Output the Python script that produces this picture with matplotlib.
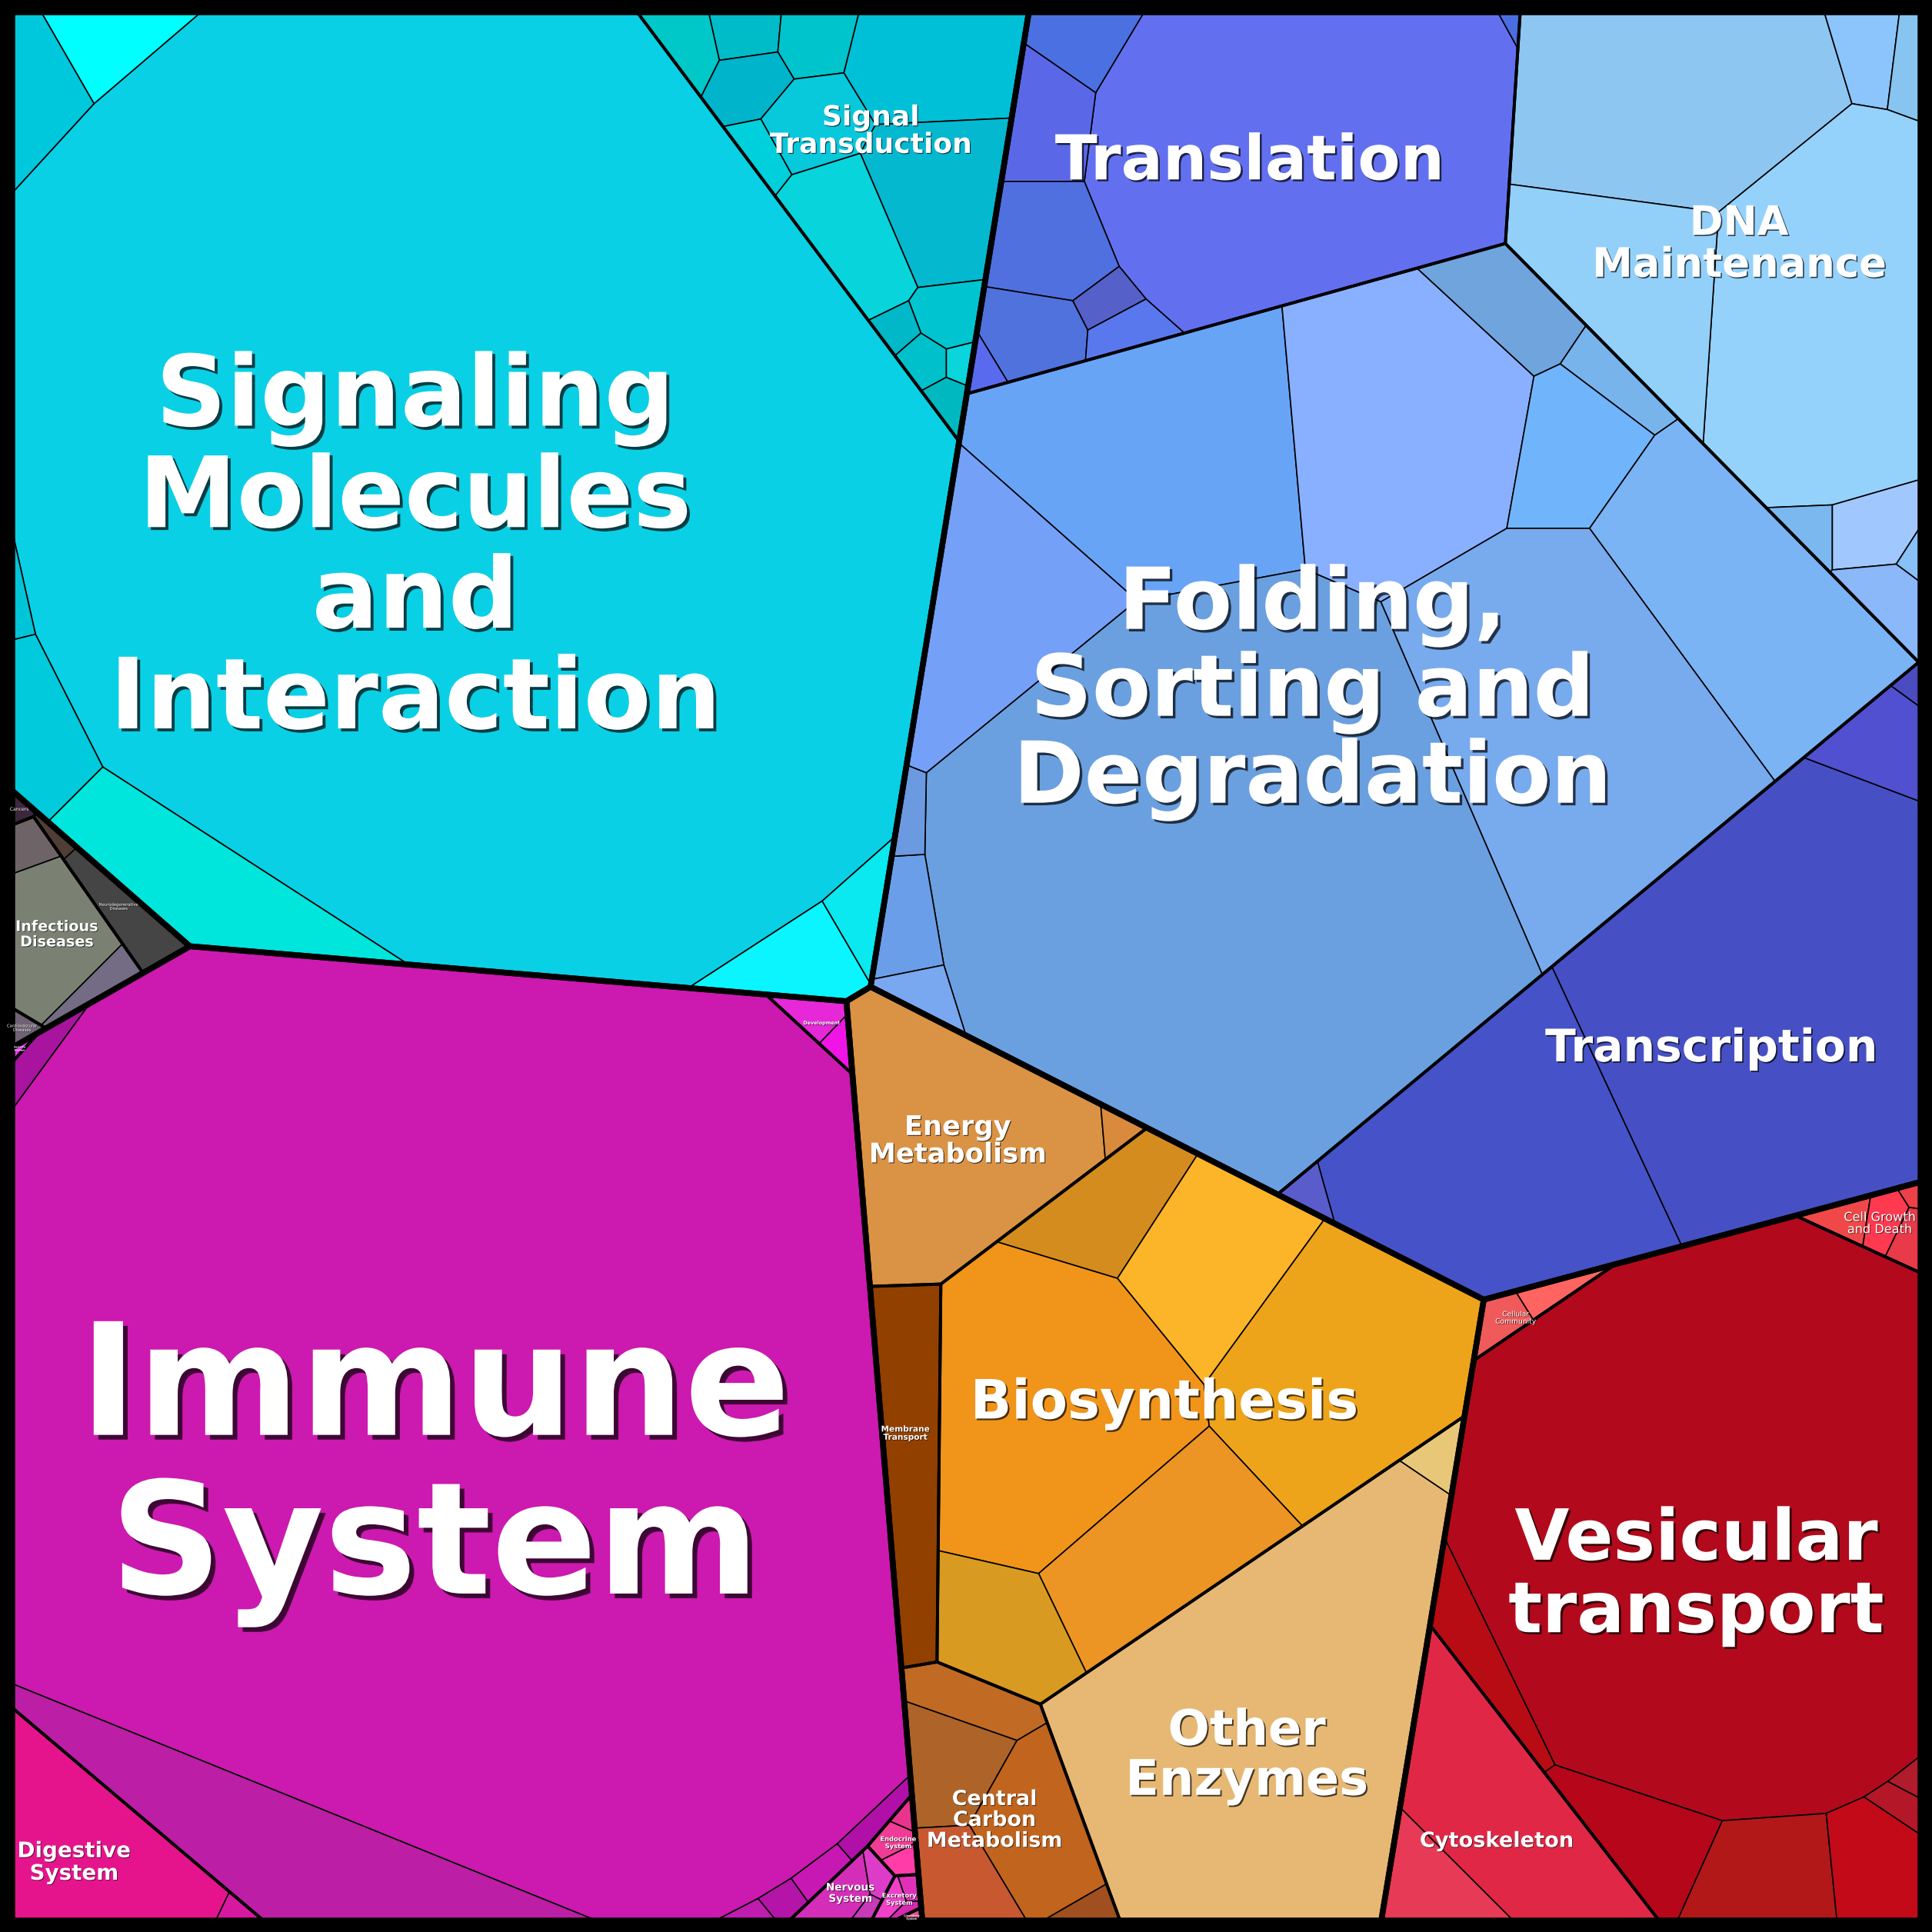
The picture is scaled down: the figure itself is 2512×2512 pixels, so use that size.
import numpy as np
import matplotlib
matplotlib.use("Agg")
import matplotlib.pyplot as plt
from matplotlib.patches import Polygon
import matplotlib.patheffects as pe

# ---------------- data: protein abundance, grouped pathway -> category -> group
groups = ["Environmental Information Processing", "Genetic Information Processing",
          "Organismal Systems", "Human Diseases", "Metabolism", "Cellular Processes"]

env_categories = ["Signaling Molecules and Interaction", "Signal Transduction"]
gen_categories = ["Translation", "DNA Maintenance", "Folding, Sorting and Degradation", "Transcription"]
org_categories = ["Immune System", "Digestive System", "Development", "Nervous System",
                  "Endocrine System", "Excretory System", "Circulatory System", "Sensory System"]
dis_categories = ["Infectious Diseases", "Neurodegenerative Diseases", "Cancers", "Cardiovascular Diseases"]
met_categories = ["Energy Metabolism", "Membrane Transport", "Biosynthesis", "Other Enzymes",
                  "Central Carbon Metabolism"]
cel_categories = ["Vesicular transport", "Cytoskeleton", "Cell Growth and Death", "Cellular Community"]

# pathway abundances inside each category
signaling_molecules = [478, 5, 6, 7, 17, 6, 3, 1]
signal_transduction = [12, 12, 8, 2, 2.5, 3, 3, 5, 1.5, 2.5, 1, 1.2, 1, 0.6]
translation = [74, 4, 6, 8, 5, 1.5, 2, 0.8, 0.3]
dna_maintenance = [37, 3.5, 2, 48, 20, 1.5, 4, 3, 0.5]
folding = [44, 40, 7, 3, 10, 35, 62, 23, 168, 4, 2, 1.5]
transcription = [44, 82, 5, 0.5, 1]
immune = [478, 28, 1.5, 1.2, 1.0, 0.8, 0.5]
digestive = [17.5, 0.5]
development = [1.3, 0.6]
nervous = [1.8, 0.6, 0.3]
endocrine = [0.7, 0.5, 0.3]
excretory = [0.5, 0.3, 0.2]
circulatory = [0.15]
sensory = [0.15]
infectious = [8, 1.2, 1.5]
neurodegenerative = [3.3, 0.4]
cancers = [0.35]
cardiovascular = [0.5]
energy = [32, 0.8]
membrane = [13.2]
biosynthesis = [41.5, 9, 15.7, 33.9, 19.3, 10]
other_enzymes = [79, 1.5]
central_carbon = [4, 6, 10, 5, 1]
vesicular = [152, 5, 8, 9, 6.5, 1, 0.5]
cytoskeleton = [22, 5]
cell_growth = [1.2, 1.3, 1.0, 0.3]
cellular_community = [1.4, 1.1]

group_members = dict(zip(groups, [env_categories, gen_categories, org_categories,
                                  dis_categories, met_categories, cel_categories]))
leaf_values = {
    "Signaling Molecules and Interaction": signaling_molecules,
    "Signal Transduction": signal_transduction,
    "Translation": translation,
    "DNA Maintenance": dna_maintenance,
    "Folding, Sorting and Degradation": folding,
    "Transcription": transcription,
    "Immune System": immune,
    "Digestive System": digestive,
    "Development": development,
    "Nervous System": nervous,
    "Endocrine System": endocrine,
    "Excretory System": excretory,
    "Circulatory System": circulatory,
    "Sensory System": sensory,
    "Infectious Diseases": infectious,
    "Neurodegenerative Diseases": neurodegenerative,
    "Cancers": cancers,
    "Cardiovascular Diseases": cardiovascular,
    "Energy Metabolism": energy,
    "Membrane Transport": membrane,
    "Biosynthesis": biosynthesis,
    "Other Enzymes": other_enzymes,
    "Central Carbon Metabolism": central_carbon,
    "Vesicular transport": vesicular,
    "Cytoskeleton": cytoskeleton,
    "Cell Growth and Death": cell_growth,
    "Cellular Community": cellular_community,
}

# ---------------- layout hints (seed points of the power-diagram treemap, canvas units 0..1568)
group_seed = {
    "Environmental Information Processing": (398, 378),
    "Genetic Information Processing": (1174, 504),
    "Organismal Systems": (331, 1178),
    "Human Diseases": (81, 740),
    "Metabolism": (852, 1135),
    "Cellular Processes": (1367, 1220),
}
category_seed = {
    "Signaling Molecules and Interaction": (365, 405), "Signal Transduction": (705, 150),
    "Translation": (990, 140), "DNA Maintenance": (1490, 172),
    "Folding, Sorting and Degradation": (1105, 552), "Transcription": (1354, 852),
    "Immune System": (365, 1168), "Digestive System": (83, 1501), "Development": (676, 830),
    "Nervous System": (690, 1510), "Endocrine System": (725, 1478), "Excretory System": (728, 1530),
    "Circulatory System": (740, 1555), "Sensory System": (10, 848),
    "Infectious Diseases": (45, 755), "Neurodegenerative Diseases": (95, 720),
    "Cancers": (8, 660), "Cardiovascular Diseases": (5, 822),
    "Energy Metabolism": (765, 925), "Membrane Transport": (774, 1195), "Biosynthesis": (971, 1197),
    "Other Enzymes": (1128, 1428), "Central Carbon Metabolism": (832, 1537),
    "Vesicular transport": (1390, 1270), "Cytoskeleton": (1190, 1425),
    "Cell Growth and Death": (1518, 990), "Cellular Community": (1244, 1055),
}
leaf_seed = {
    "Signaling Molecules and Interaction": [(390, 390), (82, 30), (30, 60), (35, 570), (180, 715),
                                            (640, 775), (700, 740), (12, 475)],
    "Signal Transduction": [(755, 55), (760, 160), (690, 190), (600, 25), (555, 35), (655, 30),
                            (605, 60), (665, 110), (620, 135), (770, 245), (725, 262), (745, 285),
                            (765, 322), (780, 285)],
    "Translation": [(1030, 120), (880, 30), (835, 95), (835, 200), (823, 275), (872, 250),
                    (888, 280), (790, 295), (1222, 14)],
    "DNA Maintenance": [(1340, 90), (1505, 40), (1545, 45), (1470, 250), (1320, 240), (1478, 440),
                        (1525, 440), (1530, 495), (1556, 460)],
    "Folding, Sorting and Degradation": [(915, 370), (1140, 350), (1225, 258), (1320, 322),
                                         (1280, 375), (1430, 480), (1280, 590), (800, 500),
                                         (980, 720), (718, 765), (725, 800), (715, 715)],
    "Transcription": [(1215, 930), (1430, 830), (1515, 605), (1550, 557), (1055, 975)],
    "Immune System": [(380, 1130), (230, 1500), (25, 870), (700, 1470), (660, 1505),
                      (625, 1530), (598, 1552)],
    "Digestive System": [(70, 1490), (200, 1552)],
    "Development": [(650, 825), (676, 850)],
    "Nervous System": [(670, 1540), (700, 1535), (690, 1555)],
    "Endocrine System": [(715, 1495), (725, 1515), (728, 1465)],
    "Excretory System": [(720, 1540), (735, 1535), (735, 1555)],
    "Circulatory System": [(738, 1556)],
    "Sensory System": [(10, 848)],
    "Infectious Diseases": [(50, 760), (22, 683), (85, 795)],
    "Neurodegenerative Diseases": [(105, 740), (55, 685)],
    "Cancers": [(14, 655)],
    "Cardiovascular Diseases": [(15, 826)],
    "Energy Metabolism": [(770, 930), (912, 918)],
    "Membrane Transport": [(732, 1195)],
    "Biosynthesis": [(855, 1140), (905, 975), (990, 1030), (1100, 1110), (950, 1250), (815, 1315)],
    "Other Enzymes": [(1010, 1420), (1172, 1180)],
    "Central Carbon Metabolism": [(790, 1368), (770, 1425), (850, 1470), (775, 1515), (895, 1548)],
    "Vesicular transport": [(1390, 1240), (1205, 1330), (1310, 1480), (1410, 1525), (1510, 1515),
                            (1540, 1470), (1552, 1447)],
    "Cytoskeleton": [(1230, 1450), (1160, 1520)],
    "Cell Growth and Death": [(1485, 990), (1517, 995), (1548, 1010), (1553, 972)],
    "Cellular Community": [(1225, 1070), (1265, 1045)],
}

# ---------------- colours of the pathway cells
leaf_colors = {
    "Signaling Molecules and Interaction": ["#0ad0e6", "#00ffff", "#00c8dc", "#00cadc", "#00e6dc",
                                            "#0af5ff", "#0ae8f0", "#00c4d8"],
    "Signal Transduction": ["#00c0d8", "#04b8d0", "#08d4dc", "#00bcc8", "#00c8c8", "#00c4cc",
                            "#00b4cc", "#08c8dc", "#00d0dc", "#00c4d0", "#00b8c8", "#00c0cc",
                            "#00b8c0", "#0ad4dc"],
    "Translation": ["#6270f0", "#4a70e2", "#5a68e8", "#5070e0", "#5072dc", "#5560c8", "#5a78ee",
                    "#5a6aee", "#4a6ee0"],
    "DNA Maintenance": ["#8ec6f2", "#8cc4fc", "#88c4f0", "#94d2fc", "#92d0fa", "#7cb8f0",
                        "#a0c8ff", "#8ab8f8", "#88c0f8"],
    "Folding, Sorting and Degradation": ["#68a4f6", "#88b0ff", "#70a4dc", "#78b4ec", "#70b4fc",
                                         "#7ab4f4", "#78aaee", "#74a0f8", "#6aa0e0", "#6a9ee8",
                                         "#7aa8f0", "#6c9ae0"],
    "Transcription": ["#4652c8", "#4650c4", "#5050d0", "#4a4cc0", "#5a5ccc"],
    "Immune System": ["#cc19b0", "#bc1ea6", "#a8149e", "#b010a8", "#c818b4", "#b414a8", "#c01cb0"],
    "Digestive System": ["#e6148c", "#d818a0"],
    "Development": ["#e628d8", "#f014e6"],
    "Nervous System": ["#d42eb8", "#dc3cc8", "#c83ab8"],
    "Endocrine System": ["#f03c96", "#ff3ca8", "#e8348c"],
    "Excretory System": ["#f040c8", "#e030b8", "#d828b0"],
    "Circulatory System": ["#e84c8c"],
    "Sensory System": ["#ff30ff"],
    "Infectious Diseases": ["#7a8072", "#6e6468", "#746c84"],
    "Neurodegenerative Diseases": ["#454545", "#4e3e36"],
    "Cancers": ["#3c283c"],
    "Cardiovascular Diseases": ["#6e6274"],
    "Energy Metabolism": ["#da9244", "#d98a3c"],
    "Membrane Transport": ["#924000"],
    "Biosynthesis": ["#f0941a", "#d48c1e", "#fcb428", "#eea41a", "#ec9424", "#d89a20"],
    "Other Enzymes": ["#e6b874", "#e8c878"],
    "Central Carbon Metabolism": ["#c06a24", "#ae6428", "#c0641e", "#c85830", "#a05020"],
    "Vesicular transport": ["#b20a1c", "#b80c14", "#b5061a", "#b21818", "#c20a18", "#b41828",
                            "#b01c2c"],
    "Cytoskeleton": ["#e02846", "#e63a56"],
    "Cell Growth and Death": ["#f04848", "#ff3a50", "#e83a48", "#ee4048"],
    "Cellular Community": ["#f05a5a", "#ff6460"],
}

# ---------------- label style: text, size (pt), weight, nudge from the cell centroid
label_style = {
    "Signaling Molecules and Interaction": ("Signaling\nMolecules\nand\nInteraction", 46, "bold"),
    "Signal Transduction": ("Signal\nTransduction", 13, "bold"),
    "Translation": ("Translation", 29, "bold"),
    "DNA Maintenance": ("DNA\nMaintenance", 19, "bold"),
    "Folding, Sorting and Degradation": ("Folding,\nSorting and\nDegradation", 40, "bold"),
    "Transcription": ("Transcription", 21, "bold"),
    "Immune System": ("Immune\nSystem", 73, "bold"),
    "Digestive System": ("Digestive\nSystem", 10, "bold"),
    "Development": ("Development", 2.3, "bold"),
    "Nervous System": ("Nervous\nSystem", 4.9, "bold"),
    "Endocrine System": ("Endocrine\nSystem", 3, "bold"),
    "Excretory System": ("Excretory\nSystem", 3, "bold"),
    "Circulatory System": ("Circulatory\nSystem", 1.2, "bold"),
    "Sensory System": ("Sensory\nSystem", 1.2, "bold"),
    "Infectious Diseases": ("Infectious\nDiseases", 6.9, "bold"),
    "Neurodegenerative Diseases": ("Neurodegenerative\nDiseases", 1.9, "normal"),
    "Cancers": ("Cancers", 2.2, "normal"),
    "Cardiovascular Diseases": ("Cardiovascular\nDiseases", 1.9, "normal"),
    "Energy Metabolism": ("Energy\nMetabolism", 12.7, "bold"),
    "Membrane Transport": ("Membrane\nTransport", 3.8, "bold"),
    "Biosynthesis": ("Biosynthesis", 25.4, "bold"),
    "Other Enzymes": ("Other\nEnzymes", 23, "bold"),
    "Central Carbon Metabolism": ("Central\nCarbon\nMetabolism", 9.7, "bold"),
    "Vesicular transport": ("Vesicular\ntransport", 33, "bold"),
    "Cytoskeleton": ("Cytoskeleton", 9.8, "bold"),
    "Cell Growth and Death": ("Cell Growth\nand Death", 5.8, "normal"),
    "Cellular Community": ("Cellular\nCommunity", 3.3, "normal"),
}
label_shift = {
    "Signaling Molecules and Interaction": (-30, 38),
    "Immune System": (-15, 25),
    "Folding, Sorting and Degradation": (-15, -5),
    "Vesicular transport": (-12, 4),
    "Other Enzymes": (-18, 30),
    "Central Carbon Metabolism": (0, 10),
    "Cytoskeleton": (5, 15),
    "Digestive System": (-17, 10),
    "Signal Transduction": (-3, -18),
    "Translation": (12, -5),
    "DNA Maintenance": (-8, -5),
    "Transcription": (24, 0),
    "Membrane Transport": (-5, -17),
    "Cellular Community": (-7, 8),
}


# ---------------- power diagram (weighted Voronoi) helpers
def clip(poly, a0, a1, b, lab):
    out = []
    n = len(poly)
    for k in range(n):
        px, py, pl = poly[k]
        qx, qy, _ = poly[(k + 1) % n]
        fp = a0 * px + a1 * py - b
        fq = a0 * qx + a1 * qy - b
        if fp <= 0:
            out.append((px, py, pl))
            if fq > 0:
                t = fp / (fp - fq)
                out.append((px + t * (qx - px), py + t * (qy - py), lab))
        elif fq <= 0:
            t = fp / (fp - fq)
            out.append((px + t * (qx - px), py + t * (qy - py), pl))
    return out


def power_diagram(sites, w, boundary):
    base = [(x, y, -1) for x, y in boundary]
    cells = []
    for i, (xi, yi) in enumerate(sites):
        poly = base
        for j, (xj, yj) in enumerate(sites):
            if j == i:
                continue
            b = xj * xj + yj * yj - xi * xi - yi * yi - w[j] + w[i]
            poly = clip(poly, 2 * (xj - xi), 2 * (yj - yi), b, j)
            if len(poly) < 3:
                poly = []
                break
        cells.append(poly)
    return cells


def poly_area(poly):
    xs = np.array([p[0] for p in poly])
    ys = np.array([p[1] for p in poly])
    return 0.5 * abs(np.dot(xs, np.roll(ys, -1)) - np.dot(np.roll(xs, -1), ys))


def centroid(poly):
    xs = np.array([p[0] for p in poly])
    ys = np.array([p[1] for p in poly])
    cr = xs * np.roll(ys, -1) - np.roll(xs, -1) * ys
    a = cr.sum() / 2
    if abs(a) < 1e-9:
        return xs.mean(), ys.mean()
    return ((xs + np.roll(xs, -1)) * cr).sum() / (6 * a), ((ys + np.roll(ys, -1)) * cr).sum() / (6 * a)


def cell_stats(cells, sites):
    n = len(cells)
    areas = np.zeros(n)
    H = np.zeros((n, n))
    for i, poly in enumerate(cells):
        if not poly:
            continue
        areas[i] = poly_area(poly)
        m = len(poly)
        for k in range(m):
            px, py, lab = poly[k]
            if lab < 0:
                continue
            qx, qy, _ = poly[(k + 1) % m]
            L = np.hypot(qx - px, qy - py)
            d = np.hypot(sites[lab][0] - sites[i][0], sites[lab][1] - sites[i][1])
            c = L / (2 * d)
            H[i, lab] -= c
            H[i, i] += c
    return areas, H


def inside(poly, p):
    sign = None
    n = len(poly)
    for k in range(n):
        x0, y0 = poly[k]
        x1, y1 = poly[(k + 1) % n]
        c = (x1 - x0) * (p[1] - y0) - (y1 - y0) * (p[0] - x0)
        if abs(c) < 1e-9:
            continue
        if sign is None:
            sign = c > 0
        elif (c > 0) != sign:
            return False
    return True


def place(hints, values, poly):
    # a power diagram with prescribed areas only depends on the seed
    # configuration up to translation and scale, so move the seeds
    # into the parent cell with a similarity transform
    cx, cy = centroid(poly)
    pts = np.array(hints, float)
    wts = np.asarray(values, float)
    mx, my = (pts * wts[:, None]).sum(0) / wts.sum()
    lam = 1.0
    for _ in range(200):
        q = np.column_stack([cx + lam * (pts[:, 0] - mx), cy + lam * (pts[:, 1] - my)])
        if all(inside(poly, p) for p in q):
            break
        lam *= 0.92
    q = np.column_stack([cx + 0.95 * (q[:, 0] - cx), cy + 0.95 * (q[:, 1] - cy)])
    return [tuple(p) for p in q]


def clean(poly):
    out = []
    for p in poly:
        if not out or np.hypot(p[0] - out[-1][0], p[1] - out[-1][1]) > 1e-7:
            out.append((p[0], p[1]))
    if len(out) > 1 and np.hypot(out[0][0] - out[-1][0], out[0][1] - out[-1][1]) < 1e-7:
        out.pop()
    return out


def fit_cells(hints, values, boundary, iters=80):
    if len(values) == 1:
        return [boundary]
    sites = place(hints, values, boundary)
    tot = poly_area(boundary)
    target = np.asarray(values, float)
    target = target / target.sum() * tot
    w = np.zeros(len(sites))
    cells = power_diagram(sites, w, boundary)
    areas, H = cell_stats(cells, sites)
    err = np.abs(target - areas).sum()
    floor = 0.3 * min(target.min(), max(areas.min(), 1e-9))
    for _ in range(iters):
        if err < 2e-5 * tot:
            break
        dw = np.linalg.lstsq(H, target - areas, rcond=None)[0]
        t = 1.0
        while True:
            w_new = w + t * dw
            c_new = power_diagram(sites, w_new, boundary)
            a_new, H_new = cell_stats(c_new, sites)
            e_new = np.abs(target - a_new).sum()
            if (a_new.min() > floor and e_new <= (1 - t / 2) * err) or t < 1e-5:
                break
            t *= 0.5
        w, cells, areas, H, err = w_new, c_new, a_new, H_new, e_new
    return [clean(c) if c else [] for c in cells]


# ---------------- build the treemap
lo, hi = 8, 1560
square = [(lo, lo), (hi, lo), (hi, hi), (lo, hi)]

group_totals = [sum(sum(leaf_values[c]) for c in group_members[g]) for g in groups]
group_polys = fit_cells([group_seed[g] for g in groups], group_totals, square)

category_polys = {}
leaf_polys = {}
for g, gpoly in zip(groups, group_polys):
    cats = group_members[g]
    cpolys = fit_cells([category_seed[c] for c in cats],
                       [sum(leaf_values[c]) for c in cats], gpoly)
    for c, cpoly in zip(cats, cpolys):
        category_polys[c] = cpoly
        if len(cpoly) < 3:
            leaf_polys[c] = []
            continue
        leaf_polys[c] = fit_cells(leaf_seed[c], leaf_values[c], cpoly)

# ---------------- draw
S = 1568
fig = plt.figure(figsize=(2512 / 200, 2512 / 200), dpi=200, facecolor="black")
ax = fig.add_axes([0, 0, 1, 1])
ax.set_xlim(0, S)
ax.set_ylim(S, 0)
ax.axis("off")

for c, polys in leaf_polys.items():
    cols = leaf_colors[c]
    for k, lp in enumerate(polys):
        if len(lp) < 3:
            continue
        ax.add_patch(Polygon(lp, closed=True, facecolor=cols[k % len(cols)],
                             edgecolor="black", linewidth=0.6, joinstyle="round"))

for c, cp in category_polys.items():
    if len(cp) >= 3:
        ax.add_patch(Polygon(cp, closed=True, fill=False, edgecolor="black",
                             linewidth=1.4, joinstyle="round"))

for gp in group_polys:
    ax.add_patch(Polygon(gp, closed=True, fill=False, edgecolor="black",
                         linewidth=2.7, joinstyle="round"))

ax.add_patch(Polygon(square, closed=True, fill=False, edgecolor="black", linewidth=4.5))

for c, cp in category_polys.items():
    if len(cp) < 3:
        continue
    text, size, weight = label_style[c]
    cx, cy = centroid(cp)
    dx, dy = label_shift.get(c, (0, 0))
    off = max(0.3, size * 0.03)
    ax.text(cx + dx, cy + dy, text, ha="center", va="center", fontsize=size, fontweight=weight,
            color="white", family="DejaVu Sans", linespacing=1.06,
            path_effects=[pe.SimplePatchShadow(offset=(off, -off), shadow_rgbFace="black", alpha=0.7),
                          pe.Normal()])

fig.savefig("out.png", dpi=200, facecolor="black")
